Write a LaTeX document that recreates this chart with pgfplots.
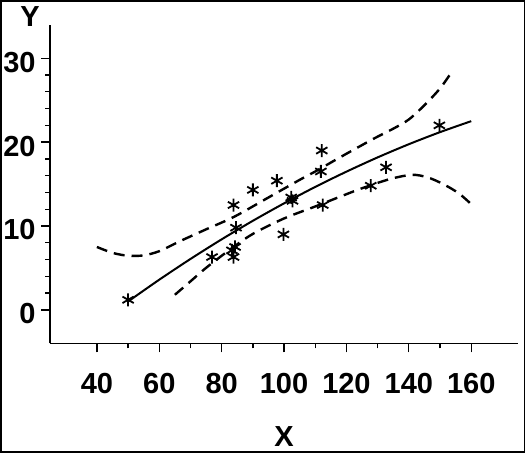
\documentclass[border=0pt]{standalone}
\usepackage{fontspec}
\setmainfont{Liberation Sans}
\usepackage{pgfplots}
\pgfplotsset{compat=1.18}
\begin{document}
\begin{tikzpicture}
\begin{axis}[
  scale only axis, width=468pt, height=318.8pt,
  xmin=25, xmax=175, ymin=-4, ymax=34,
  axis x line*=bottom, axis y line*=left,
  axis line style={line width=1.6pt, -},
  xtick={40,60,...,160}, ytick={0,10,20,30},
  minor xtick={50,70,...,150},
  minor ytick={2,4,6,8,12,14,16,18,22,24,26,28},
  tick align=outside,
  major tick length=9pt, minor tick length=5pt,
  every tick/.style={black, line width=1.3pt},
  tick label style={font=\fontsize{29}{32}\selectfont\bfseries},
  xticklabel style={yshift=-17pt},
  yticklabel style={yshift=-4pt, xshift=-2pt},
  /pgf/number format/assume math mode=true,
  label style={font=\fontsize{29}{32}\selectfont\bfseries, inner sep=1pt},
  xlabel={X}, ylabel={Y},
  xlabel style={at={(rel axis cs:0.5,-0.291)}, anchor=center},
  ylabel style={at={(rel axis cs:-0.043,1.025)}, rotate=-90, anchor=center},
  clip=false,
]
% fitted line
\addplot[black, line width=2pt, smooth] coordinates {
 (50,1.0) (60,3.6) (70,6.07) (80,8.41) (90,10.62) (100,12.70) (110,14.66)
 (120,16.48) (130,18.18) (140,19.75) (150,21.19) (160,22.50)};
% upper band
\addplot[black, line width=2.4pt, dash pattern=on 11pt off 7pt, smooth] coordinates {
 (40,7.5) (45,6.8) (50,6.45) (55,6.5) (60,7.0) (66.7,8.2) (75,9.6) (84,11.1)
 (95,13.4) (105,15.5) (110.5,16.6) (118,18.2) (128.7,20.4) (135,21.6) (140,22.7)
 (145,24.4) (150,26.4) (154,28.5)};
% lower band
\addplot[black, line width=2.4pt, dash pattern=on 11pt off 7pt, smooth] coordinates {
 (65,1.8) (70,3.4) (75.3,5.1) (83.8,7.5) (90.2,9.1) (100,10.9) (110.5,12.4)
 (118,13.5) (125,14.5) (134,15.6) (141,16.1) (146,15.8) (151,15.0) (156,13.9) (160,12.6)};
% observations
\addplot[only marks, mark=asterisk, mark size=6.5pt, mark options={line width=1.8pt, black}] coordinates {
 (50,1.2) (76.9,6.3) (83.3,7.1) (84.3,7.5) (83.8,6.3) (84.6,9.8) (83.8,12.5)
 (90,14.3) (97.7,15.4) (99.8,9.0) (102.3,13.4) (102.7,13.0) (112.1,19.0)
 (111.8,16.5) (112.4,12.5) (127.8,14.8) (132.7,17.0) (149.8,22.0)};
\draw[line width=1.5pt] ([xshift=-49.25pt,yshift=-108.65pt]rel axis cs:0,0)
  rectangle ([xshift=6.25pt,yshift=23.95pt]rel axis cs:1,1);
\end{axis}
\end{tikzpicture}
\end{document}
